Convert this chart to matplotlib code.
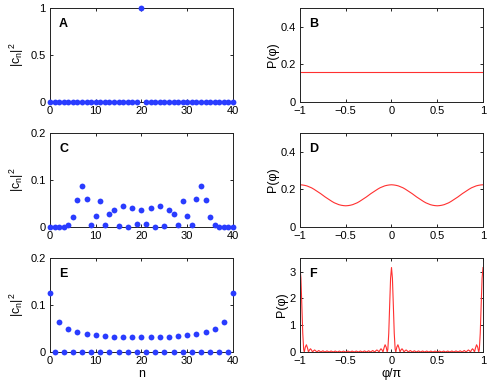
import numpy as np
import matplotlib
matplotlib.use('Agg')
import matplotlib.pyplot as plt
from matplotlib.ticker import FuncFormatter

plt.rcParams['font.family'] = ['Liberation Sans', 'DejaVu Sans']
plt.rcParams['mathtext.fontset'] = 'custom'
plt.rcParams['mathtext.rm'] = 'Liberation Sans'
plt.rcParams['mathtext.it'] = 'Liberation Sans'

# ---- data ----
n = np.arange(41)

# panel A: single occupied level
cA = [0.0] * 41
cA[20] = 1.0

# panel C
cC = [0, 0, 0, 0, 0.005, 0.021, 0.057, 0.088, 0.059, 0.004, 0.024,
      0.055, 0.005, 0.028, 0.037, 0.002, 0.045, 0.001, 0.040, 0.006, 0.037,
      0.006, 0.040, 0.001, 0.045, 0.002, 0.037, 0.028, 0.005, 0.055, 0.024,
      0.004, 0.059, 0.088, 0.057, 0.021, 0.005, 0, 0, 0, 0]

# panel E (odd n are empty)
cE = [0.126, 0, 0.064, 0, 0.050, 0, 0.043, 0, 0.0386, 0, 0.036,
      0, 0.034, 0, 0.032, 0, 0.031, 0, 0.031, 0, 0.031,
      0, 0.031, 0, 0.031, 0, 0.032, 0, 0.034, 0, 0.036,
      0, 0.0386, 0, 0.043, 0, 0.050, 0, 0.064, 0, 0.126]

# panel B: flat distribution
phiB = [-1, 1]
pB = [0.159, 0.159]

# panel D: half period profile (phi/pi from 0 to 0.5)
phiD_half = [0, 0.025, 0.05, 0.075, 0.1, 0.125, 0.15, 0.175, 0.2, 0.225,
             0.25, 0.275, 0.3, 0.325, 0.35, 0.375, 0.4, 0.425, 0.45, 0.475, 0.5]
pD_half = [0.225, 0.224, 0.222, 0.219, 0.214, 0.209, 0.202, 0.194, 0.186, 0.178,
           0.169, 0.160, 0.152, 0.144, 0.136, 0.129, 0.124, 0.119, 0.116, 0.114, 0.113]

# panel F: half period profile (phi/pi from 0 to 0.5)
phiF_half = [0, 0.01, 0.02, 0.03, 0.04, 0.047,
             0.058, 0.07, 0.082, 0.093,
             0.104, 0.115, 0.126, 0.137,
             0.149, 0.16, 0.171, 0.183,
             0.205, 0.228, 0.25, 0.272, 0.295, 0.318,
             0.34, 0.362, 0.385, 0.408, 0.43, 0.452, 0.475, 0.5]
pF_half = [3.15, 2.75, 1.75, 0.7, 0.1, 0.0,
           0.18, 0.27, 0.15, 0.0,
           0.08, 0.12, 0.07, 0.0,
           0.05, 0.075, 0.045, 0.0,
           0.055, 0.0, 0.045, 0.0, 0.04, 0.0,
           0.037, 0.0, 0.035, 0.0, 0.034, 0.0, 0.033, 0.0]


def full_period(xh, yh):
    # the distributions are symmetric with period 1 in phi/pi
    xh = np.asarray(xh, float)
    yh = np.asarray(yh, float)
    xr = np.concatenate([xh, 1 - xh[::-1][1:]])
    yr = np.concatenate([yh, yh[::-1][1:]])
    x = np.concatenate([-xr[::-1], xr[1:]])
    y = np.concatenate([yr[::-1], yr[1:]])
    return x, y


phiD, pD = full_period(phiD_half, pD_half)
phiF, pF = full_period(phiF_half, pF_half)

blue = '#2a3cff'
red = '#ff3030'
fs = 8

fig = plt.figure(figsize=(4.91, 3.8), dpi=100)

left_x, right_x, w, h = 0.1018, 0.611, 0.3727, 0.247
rows = [0.7316, 0.4026, 0.0737]

fmt = FuncFormatter(lambda v, p: ('%g' % v).replace('-', '\u2212'))


def style(ax):
    for s in ax.spines.values():
        s.set_linewidth(0.7)
        s.set_color('#222222')
    ax.tick_params(direction='in', length=2.5, width=0.6, labelsize=fs,
                   top=True, right=True)
    ax.tick_params(axis='y', pad=3)
    ax.tick_params(axis='x', pad=3)
    ax.yaxis.set_major_formatter(fmt)
    ax.xaxis.set_major_formatter(fmt)


ylab_c = '|c$_\\mathrm{n}$|$^2$'

# left column
left_data = [(cA, 'A', 1.0, [0, 0.5, 1]),
             (cC, 'C', 0.2, [0, 0.1, 0.2]),
             (cE, 'E', 0.2, [0, 0.1, 0.2])]
for (c, lab, ymax, yt), yb in zip(left_data, rows):
    ax = fig.add_axes([left_x, yb, w, h])
    ax.plot(n, c, 'o', color=blue, markersize=4.2, markeredgewidth=0,
            clip_on=False, zorder=3)
    ax.set_xlim(0, 40)
    ax.set_ylim(0, ymax)
    ax.set_xticks([0, 10, 20, 30, 40])
    ax.set_yticks(yt)
    style(ax)
    ax.set_ylabel(ylab_c, fontsize=fs + 1, labelpad=3)
    ax.text(0.05, 0.8, lab, transform=ax.transAxes, fontsize=fs + 1,
            fontweight='bold')
    if lab == 'E':
        ax.set_xlabel('n', fontsize=fs + 1, labelpad=1)

# right column
right_data = [(phiB, pB, 'B', 0.5, [0, 0.2, 0.4]),
              (phiD, pD, 'D', 0.5, [0, 0.2, 0.4]),
              (phiF, pF, 'F', 3.5, [0, 1, 2, 3])]
for (x, y, lab, ymax, yt), yb in zip(right_data, rows):
    ax = fig.add_axes([right_x, yb, w, h])
    ax.plot(x, y, '-', color=red, lw=0.8)
    ax.set_xlim(-1, 1)
    ax.set_ylim(0, ymax)
    ax.set_xticks([-1, -0.5, 0, 0.5, 1])
    ax.set_yticks(yt)
    style(ax)
    ax.set_ylabel('P(φ)', fontsize=fs + 1, labelpad=1)
    ax.text(0.05, 0.8, lab, transform=ax.transAxes, fontsize=fs + 1,
            fontweight='bold')
    if lab == 'F':
        ax.set_xlabel('φ/π', fontsize=fs + 1, labelpad=1)

fig.savefig('out.png', dpi=100)
